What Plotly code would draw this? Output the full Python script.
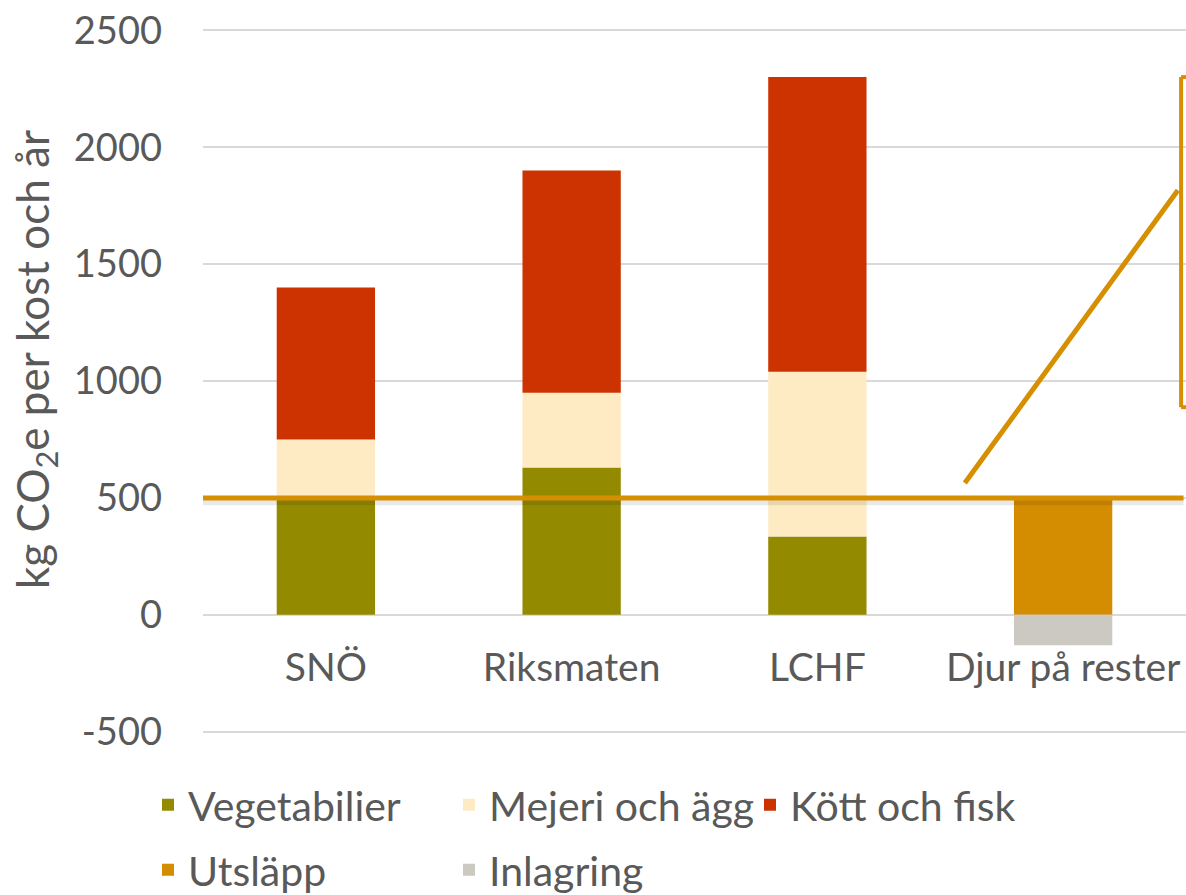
import plotly.graph_objects as go

categories = ["SNÖ", "Riksmaten", "LCHF", "Djur på rester"]
vegetabilier = [500, 630, 335, None]
mejeri = [250, 320, 705, None]
kott = [650, 950, 1260, None]
utslapp = [None, None, None, 500]
inlagring = [None, None, None, -130]

y_ticks = [-500, 0, 500, 1000, 1500, 2000, 2500]
y_tick_text = ["-500", "0", "500", "1000", "1500", "2000", "2500"]
y_range = [-510, 2510]

# decorative reference lines (category-index x, value y)
ref_line_y = 500
diag_x = [2.60, 3.467]
diag_y = [564, 1816]
bracket_x = 3.48
bracket_y = [2300, 888]

FONT = "Lato"
TXT = "#595959"
ORANGE = "#D68F00"
W, H = 1186, 895
L, T, B = 203, 28, 161

fig = go.Figure()
series = [
    ("Vegetabilier", vegetabilier, "#948A00", "legend"),
    ("Mejeri och ägg", mejeri, "#FEEBC4", "legend"),
    ("Kött och fisk", kott, "#CD3300", "legend"),
    ("Utsläpp", utslapp, "#D48C00", "legend2"),
    ("Inlagring", inlagring, "#CCC8C2", "legend2"),
]
for name, vals, col, lg in series:
    fig.add_trace(go.Bar(x=categories, y=vals, name=name, marker_color=col,
                         marker_line_width=0, legend=lg))


def seg(x0, x1, y0, y1, color, width):
    return dict(type="line", xref="x", yref="y", x0=x0, x1=x1, y0=y0, y1=y1,
                line=dict(color=color, width=width), layer="above")


shapes = [
    seg(-0.5, 3.49, ref_line_y - 17, ref_line_y - 17, "rgba(0,0,0,0.09)", 7),
    seg(-0.5, 3.49, ref_line_y, ref_line_y, ORANGE, 5),
    seg(diag_x[0], diag_x[1], diag_y[0], diag_y[1], ORANGE, 5),
    seg(bracket_x, bracket_x, bracket_y[0], bracket_y[1], ORANGE, 4),
    seg(bracket_x, 3.5, bracket_y[0], bracket_y[0], ORANGE, 4),
    seg(bracket_x, 3.5, bracket_y[1], bracket_y[1], ORANGE, 4),
]


def legend_box(page_y):
    return dict(orientation="h", xref="container", yref="container",
                x=148 / W, y=1 - page_y / H,
                xanchor="left", yanchor="middle", entrywidth=256, entrywidthmode="pixels",
                font=dict(size=41, color=TXT), bgcolor="rgba(0,0,0,0)", traceorder="normal")


plot_w = W - L
plot_h = H - T - B
fig.update_layout(
    width=W, height=H,
    margin=dict(l=L, r=0, t=T, b=B, autoexpand=False),
    paper_bgcolor="white", plot_bgcolor="white",
    barmode="relative", bargap=0.6,
    font=dict(family=FONT, color=TXT, size=38),
    shapes=shapes,
    xaxis=dict(anchor="free", position=(0 - y_range[0]) / (y_range[1] - y_range[0]),
               showline=False, ticks="",
               tickfont=dict(size=39, color=TXT), ticklabelstandoff=26,
               range=[-0.5, 3.5], showgrid=False, automargin=False),
    yaxis=dict(range=y_range, tickvals=y_ticks, ticktext=y_tick_text,
               showgrid=True, gridcolor="#D9D9D9", ticklabeloverflow="allow",
               gridwidth=1.5, zeroline=False, showline=False, ticks="",
               tickfont=dict(size=38, color=TXT), ticklabelstandoff=40, automargin=False),
    annotations=[dict(text="kg CO<sub>2</sub>e per kost och år", textangle=-90,
                      xref="paper", yref="paper", x=(35 - L) / plot_w, y=(H - B - 360) / plot_h,
                      xanchor="center", yanchor="middle", showarrow=False,
                      font=dict(size=44, color=TXT))],
    legend=legend_box(805),
    legend2=legend_box(870),
)

fig.write_html(
    "out.html",
    config={"displayModeBar": False},
    post_script="document.body.style.margin='0';document.documentElement.style.overflow='hidden';",
)
